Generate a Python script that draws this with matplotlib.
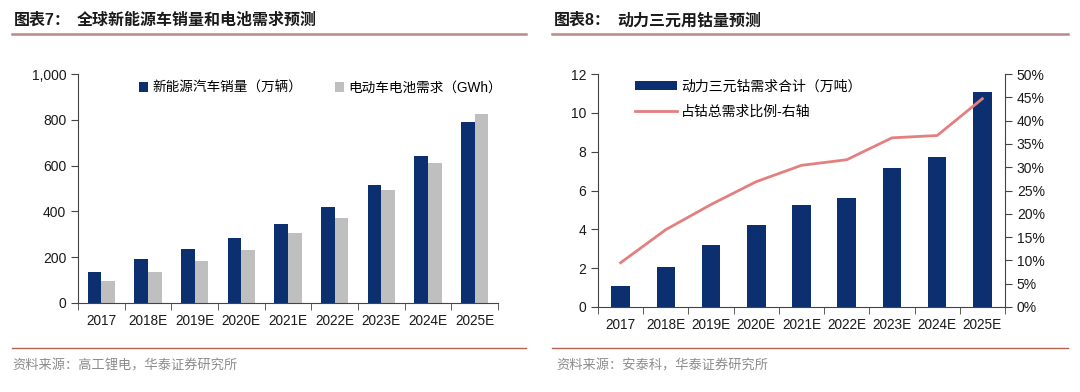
import numpy as np
import matplotlib
matplotlib.use("Agg")
import matplotlib.pyplot as plt
from matplotlib.lines import Line2D
from matplotlib.ticker import FuncFormatter, MultipleLocator

plt.rcParams['font.family'] = ['Liberation Sans', 'Noto Sans CJK SC', 'DejaVu Sans']

years = ['2017', '2018E', '2019E', '2020E', '2021E', '2022E', '2023E', '2024E', '2025E']
ev_sales = [134, 192, 235, 283, 344, 421, 516, 640, 792]          # 万辆
battery_demand = [94, 137, 182, 233, 305, 371, 494, 613, 824]     # GWh
cobalt_demand = [1.1, 2.05, 3.2, 4.2, 5.25, 5.6, 7.18, 7.7, 11.08]   # 万吨
cobalt_share = [9.5, 16.6, 22.0, 26.9, 30.4, 31.6, 36.3, 36.8, 44.7]  # %

NAVY = '#0b2f6f'
GREY = '#bfbfbf'
PINK = '#e3807f'
RULE = '#b98a86'
TXT = '#1a1a1a'

fig = plt.figure(figsize=(10.8, 3.92), dpi=100)
W, H = 1080, 392

def fx(px):
    return px / W

def fy(py):
    return 1 - py / H

# headers, rules and sources
fig.text(fx(14), fy(20), '图表7：', fontsize=11.5, fontweight='bold', color=TXT, va='center')
fig.text(fx(77), fy(20), '全球新能源车销量和电池需求预测', fontsize=11.5, fontweight='bold', color=TXT, va='center')
fig.text(fx(554), fy(20), '图表8：', fontsize=11.5, fontweight='bold', color=TXT, va='center')
fig.text(fx(617), fy(20), '动力三元用钴量预测', fontsize=11.5, fontweight='bold', color=TXT, va='center')
for x0, x1 in [(12, 526), (552, 1068)]:
    fig.add_artist(Line2D([fx(x0), fx(x1)], [fy(34), fy(34)], color=RULE, lw=1.8))
    fig.add_artist(Line2D([fx(x0), fx(x1)], [fy(348), fy(348)], color='#b0644f', lw=1.0))
fig.text(fx(12), fy(366), '资料来源：高工锂电，华泰证券研究所', fontsize=9.5, color='#8c8c8c', va='center')
fig.text(fx(556), fy(366), '资料来源：安泰科，华泰证券研究所', fontsize=9.5, color='#8c8c8c', va='center')

x = np.arange(len(years))

def style_x(ax):
    ax.set_xlim(-0.5, len(years) - 0.5)
    ax.set_xticks(x)
    ax.set_xticklabels(years, fontsize=9.8, color=TXT)
    ax.tick_params(axis='x', which='major', length=0, pad=8)
    ax.set_xticks(np.arange(len(years) + 1) - 0.5, minor=True)
    ax.tick_params(axis='x', which='minor', length=5, direction='out', color='#444444')
    for s in ['top', 'right']:
        ax.spines[s].set_visible(False)
    ax.spines['left'].set_color('#444444')
    ax.spines['bottom'].set_color('#444444')
    ax.tick_params(axis='y', length=5, direction='out', color='#444444', labelsize=10, labelcolor=TXT)

# left chart
ax1 = fig.add_axes([fx(78), fy(303), fx(498 - 78), (303 - 74) / H])
bw = 0.29
ax1.bar(x - bw / 2, ev_sales, bw, color=NAVY, label='新能源汽车销量（万辆）')
ax1.bar(x + bw / 2, battery_demand, bw, color=GREY, label='电动车电池需求（GWh）')
ax1.set_ylim(0, 1000)
ax1.yaxis.set_major_locator(MultipleLocator(200))
ax1.yaxis.set_major_formatter(FuncFormatter(lambda v, p: f'{int(v):,}'))
style_x(ax1)
ax1.legend(loc='upper left', bbox_to_anchor=(0.115, 1.025), ncol=2, frameon=False,
           fontsize=9.8, handlelength=0.7, handleheight=0.7, handletextpad=0.3, columnspacing=2.4)

# right chart
ax2 = fig.add_axes([fx(598), fy(307), fx(1005 - 598), (307 - 74) / H])
ax2.bar(x, cobalt_demand, 0.41, color=NAVY, label='动力三元钴需求合计（万吨）')
ax2.set_ylim(0, 12)
ax2.yaxis.set_major_locator(MultipleLocator(2))
style_x(ax2)
ax3 = ax2.twinx()
ax3.plot(x, cobalt_share, color=PINK, lw=2.0, label='占钴总需求比例-右轴')
ax3.set_ylim(0, 50)
ax3.yaxis.set_major_locator(MultipleLocator(5))
ax3.yaxis.set_major_formatter(FuncFormatter(lambda v, p: f'{int(v)}%'))
for s in ['top', 'left', 'bottom']:
    ax3.spines[s].set_visible(False)
ax3.spines['right'].set_color('#444444')
ax3.tick_params(axis='y', length=5, direction='out', color='#444444', labelsize=10, labelcolor=TXT)

h1, l1 = ax2.get_legend_handles_labels()
h2, l2 = ax3.get_legend_handles_labels()
ax3.legend(h1 + h2, l1 + l2, loc='upper left', bbox_to_anchor=(0.06, 1.03), frameon=False,
           fontsize=10, handlelength=3.0, handleheight=0.6, handletextpad=0.3, labelspacing=0.8)

fig.savefig('out.png', dpi=100)
